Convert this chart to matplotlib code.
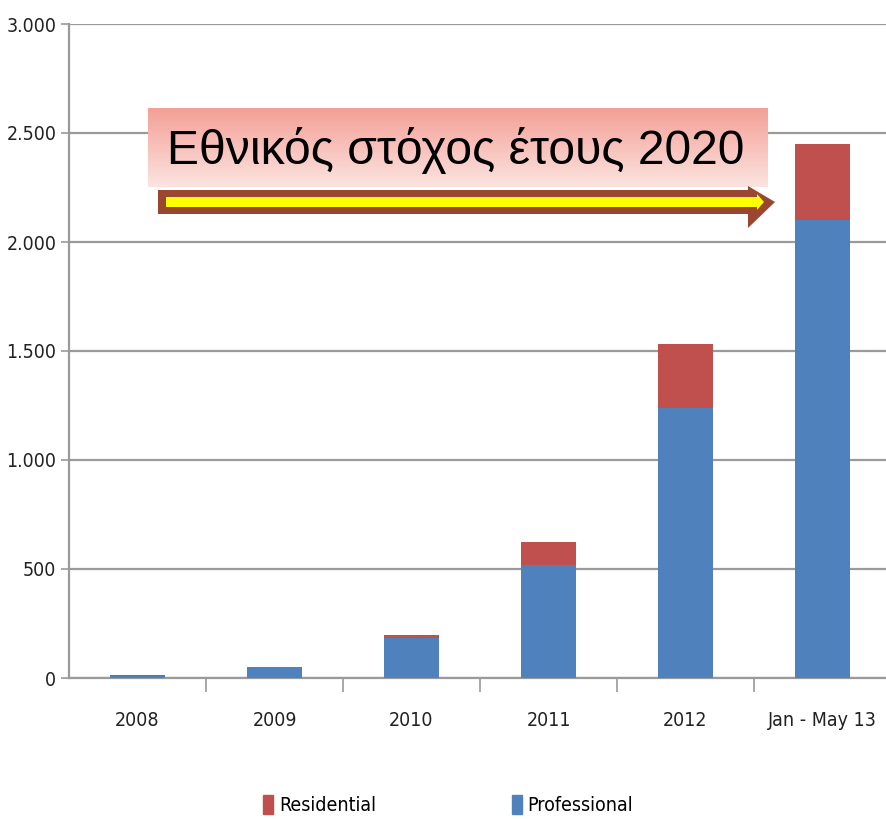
import numpy as np
import matplotlib
matplotlib.use("Agg")
import matplotlib.pyplot as plt
from matplotlib.patches import Polygon, Patch
from matplotlib.ticker import FuncFormatter, FixedLocator

categories = ["2008", "2009", "2010", "2011", "2012", "Jan - May 13"]
professional = [10, 50, 185, 520, 1240, 2100]
residential = [2, 0, 10, 105, 290, 350]
yticks = [0, 500, 1000, 1500, 2000, 2500, 3000]

W, H = 886, 819
blue = "#4f81bd"
red = "#c0504d"
grid_c = "#9a9a9a"
narrow = {"family": "DejaVu Sans", "stretch": "condensed", "size": 14}

fig = plt.figure(figsize=(W / 100, H / 100), dpi=100)


def px(x, y):
    # pixel (from top-left) -> figure fraction
    return x / W, 1 - y / H


ax = fig.add_axes([69 / W, 1 - 678 / H, 822 / W, 654 / H])
x = np.arange(len(categories))
ax.bar(x, professional, width=0.4, color=blue, zorder=3, label="Professional")
ax.bar(x, residential, width=0.4, bottom=professional, color=red, zorder=3, label="Residential")

ax.set_xlim(-0.5, len(categories) - 0.5)
ax.set_ylim(0, 3000)
ax.set_yticks(yticks)
ax.yaxis.set_major_formatter(FuncFormatter(lambda v, p: f"{int(v):,}".replace(",", ".")))
ax.grid(axis="y", color=grid_c, linewidth=1.6, zorder=0)
ax.tick_params(axis="y", length=6, width=1.2, color=grid_c, pad=3)

ax.set_xticks(x)
ax.set_xticklabels(categories)
ax.xaxis.set_minor_locator(FixedLocator(np.arange(0.5, len(categories) - 0.5, 1)))
ax.tick_params(axis="x", which="major", length=0, pad=24)
ax.tick_params(axis="x", which="minor", length=10, width=1.2, color=grid_c)
for lab in ax.get_xticklabels() + ax.get_yticklabels():
    lab.set_fontproperties(narrow)
    lab.set_color("#222222")

for s in ["top", "right"]:
    ax.spines[s].set_visible(False)
for s in ["left", "bottom"]:
    ax.spines[s].set_color(grid_c)
    ax.spines[s].set_linewidth(1.6)

# legend
handles = [Patch(color=red, label="Residential"), Patch(color=blue, label="Professional")]
leg = fig.legend(handles=handles, loc="center", bbox_to_anchor=(0.506, 1 - 805 / H), ncol=2,
                 frameon=False, handlelength=0.5, handleheight=1.1, handletextpad=0.3,
                 columnspacing=7.0, prop=narrow)

# annotation box with gradient
box = fig.add_axes([148 / W, 1 - 187 / H, 620 / W, 79 / H])
grad = np.linspace(0, 1, 100).reshape(-1, 1)
top_c = np.array([244, 160, 150]) / 255
bot_c = np.array([251, 228, 224]) / 255
img = top_c * (1 - grad[..., None]) + bot_c * grad[..., None]
box.imshow(img, aspect="auto", extent=[0, 1, 0, 1])
box.set_axis_off()
fig.text(*px(167, 150), "Εθνικός στόχος έτους 2020", fontsize=34.6,
         family=["Liberation Sans", "DejaVu Sans"], va="center", ha="left", color="black")

# arrow
outer = [(158, 190), (748, 190), (748, 186), (775, 202), (748, 228), (748, 214), (158, 214)]
inner = [(166, 197), (757, 197), (757, 194), (764, 202), (757, 210), (757, 207), (166, 207)]
fig.patches.append(Polygon([px(a, b) for a, b in outer], closed=True, transform=fig.transFigure,
                           facecolor="#9b4631", edgecolor="none"))
fig.patches.append(Polygon([px(a, b) for a, b in inner], closed=True, transform=fig.transFigure,
                           facecolor="#ffff00", edgecolor="none"))

fig.savefig("out.png", dpi=100)
